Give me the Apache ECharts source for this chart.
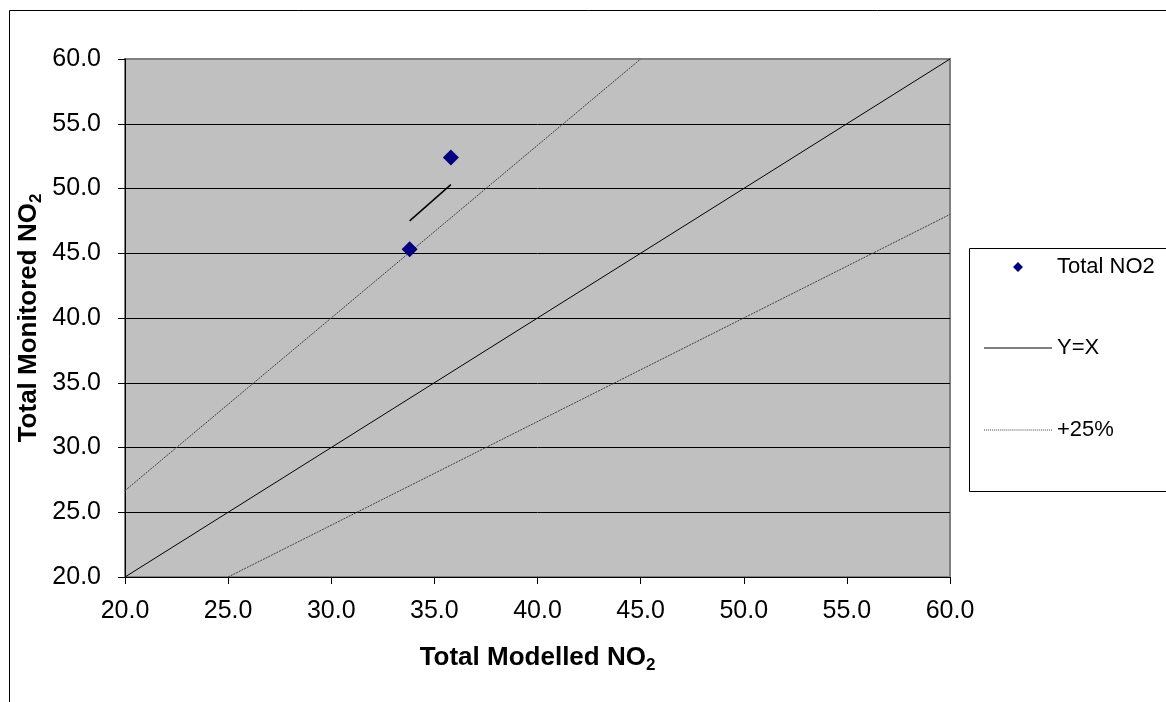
<!DOCTYPE html>
<html>
<head>
<meta charset="utf-8">
<script src="https://cdn.jsdelivr.net/npm/echarts@6/dist/echarts.min.js"></script>
<style>
html,body{margin:0;padding:0;background:#fff;}
#chart{width:1166px;height:702px;}
</style>
</head>
<body>
<div id="chart"></div>
<script>
// Data
const monitoredPoints = [[33.8, 45.3], [35.8, 52.4]];   // Total NO2 (modelled, monitored)
const yEqualsX = [[20, 20], [60, 60]];
const plus25Upper = [[20, 26.67], [45, 60]];
const plus25Lower = [[25, 20], [60, 48]];
const trendSegment = [[33.8, 47.5], [35.8, 50.3]];
const axisMin = 20, axisMax = 60, axisStep = 5;

const chart = echarts.init(document.getElementById('chart'));
const FONT = 'Liberation Sans, Arial, sans-serif';

let dotted = 'path://';
for (let i = 0; i < 34; i++) dotted += 'M' + (i * 2) + ',0h1v1h-1z';
const solid = 'path://M0,0h68v1h-68z';
const diamondIcon = 'path://M0,0h0.01v0.01h-0.01zM67.99,9.99h0.01v0.01h-0.01zM29,5L34,0L39,5L34,10z';

const nameRich = {
  a: { fontSize: 26, fontWeight: 'bold', color: '#000', fontFamily: FONT },
  b: { fontSize: 17, fontWeight: 'bold', color: '#000', fontFamily: FONT, padding: [16, 0, 0, 0] }
};

const option = {
  animation: false,
  backgroundColor: '#fff',
  textStyle: { fontFamily: FONT },
  grid: {
    left: 125, right: 216, top: 59, bottom: 125,
    show: true, backgroundColor: '#C0C0C0', borderColor: '#808080', borderWidth: 2
  },
  xAxis: {
    type: 'value', min: axisMin, max: axisMax, interval: axisStep,
    name: '{a|Total Modelled NO}{b|2}',
    nameLocation: 'middle', nameGap: 64,
    nameTextStyle: { rich: nameRich },
    axisLine: { show: true, lineStyle: { color: '#000', width: 1 } },
    axisTick: { show: true, length: 7, lineStyle: { color: '#000' } },
    axisLabel: { fontSize: 25, color: '#000', margin: 22, fontFamily: FONT,
      formatter: v => v.toFixed(1) },
    splitLine: { show: false }
  },
  yAxis: {
    type: 'value', min: axisMin, max: axisMax, interval: axisStep,
    name: '{a|Total Monitored NO}{b|2}',
    nameLocation: 'middle', nameGap: 80, nameRotate: 90, nameMoveOverlap: false,
    nameTextStyle: { rich: nameRich },
    axisLine: { show: true, lineStyle: { color: '#000', width: 1 } },
    axisTick: { show: true, length: 7, lineStyle: { color: '#000' } },
    axisLabel: { fontSize: 25, color: '#000', margin: 24, fontFamily: FONT,
      formatter: v => v.toFixed(1) },
    splitLine: { show: true, showMaxLine: false, lineStyle: { color: '#000', width: 1 } }
  },
  legend: [
    {
      data: [{ name: 'Total NO2', icon: diamondIcon }],
      orient: 'vertical', left: 984, top: 255, padding: 0,
      itemWidth: 68, itemHeight: 10, itemGap: 5, symbolKeepAspect: false,
      textStyle: { fontSize: 22, lineHeight: 24, color: '#000', fontFamily: FONT },
      selectedMode: false
    },
    {
      data: [{ name: 'Y=X', icon: solid, itemStyle: { color: '#000' } },
             { name: '+25%', icon: dotted, itemStyle: { color: '#404040' } }],
      orient: 'vertical', left: 984, top: 336, padding: 0,
      itemWidth: 68, itemHeight: 1, itemGap: 58, symbolKeepAspect: false,
      textStyle: { fontSize: 22, lineHeight: 24, color: '#000', fontFamily: FONT },
      selectedMode: false
    }
  ],
  graphic: [
    { type: 'rect', silent: true, z: -10,
      shape: { x: 9.5, y: 10.5, width: 1300, height: 900 },
      style: { fill: 'none', stroke: '#000', lineWidth: 1 } },
    { type: 'rect', silent: true, z: -5,
      shape: { x: 969.5, y: 248.5, width: 400, height: 243 },
      style: { fill: '#fff', stroke: '#000', lineWidth: 1 } }
  ],
  series: [
    {
      name: '+25%', type: 'line', data: plus25Upper, symbol: 'none',
      itemStyle: { color: '#404040' },
      lineStyle: { color: '#404040', width: 1, type: [2, 1] }, z: 2
    },
    {
      name: '+25%', type: 'line', data: plus25Lower, symbol: 'none',
      itemStyle: { color: '#404040' },
      lineStyle: { color: '#404040', width: 1, type: [2, 1] }, z: 2
    },
    {
      name: 'Y=X', type: 'line', data: yEqualsX, symbol: 'none',
      lineStyle: { color: '#000', width: 1 }, itemStyle: { color: '#000' }, z: 2
    },
    {
      name: 'trend', type: 'line', data: trendSegment, symbol: 'none',
      lineStyle: { color: '#000', width: 1.5 }, z: 2
    },
    {
      name: 'Total NO2', type: 'scatter', data: monitoredPoints,
      symbol: 'diamond', symbolSize: 16,
      itemStyle: { color: '#000080', opacity: 1 }, z: 3
    }
  ]
};
chart.setOption(option);
</script>
</body>
</html>
